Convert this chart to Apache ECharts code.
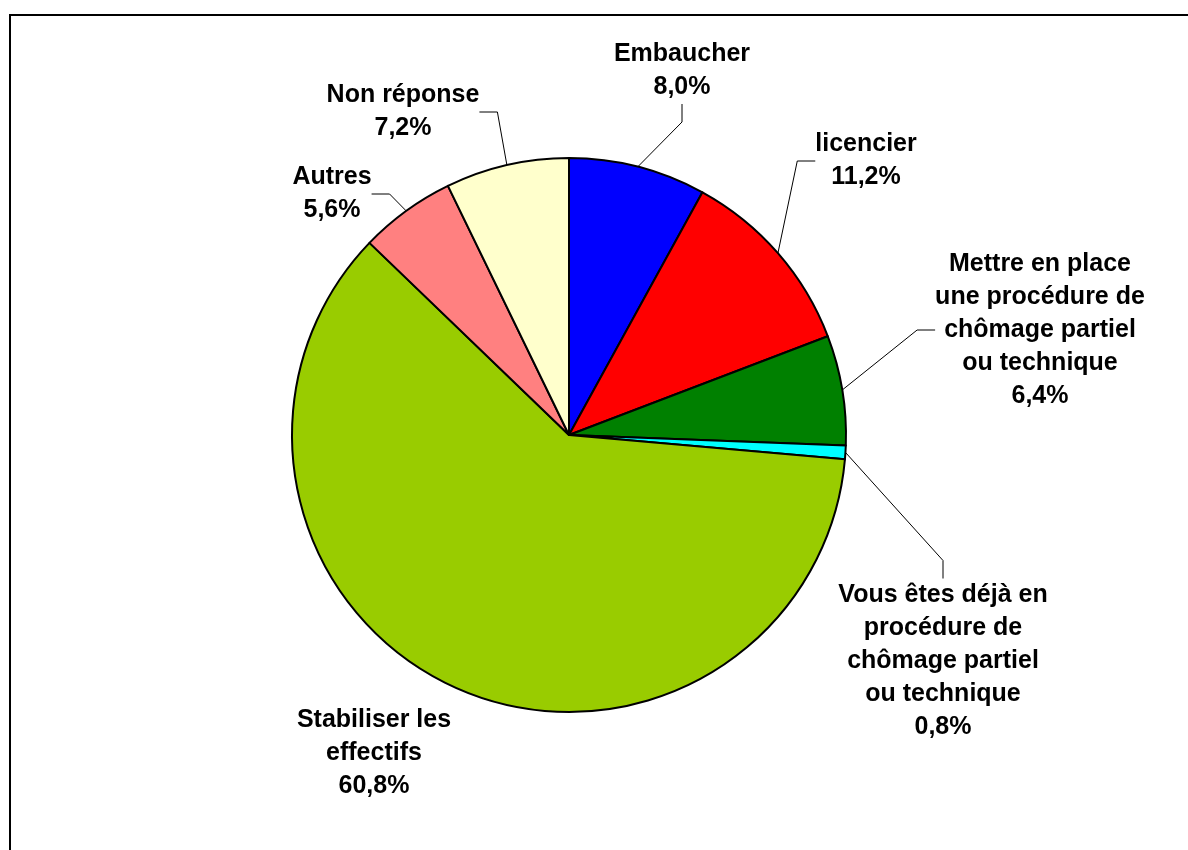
<!DOCTYPE html>
<html>
<head>
    <meta charset="utf-8">
    <title>ECharts</title>
    <script src="https://cdn.jsdelivr.net/npm/echarts@6/dist/echarts.min.js"></script>
    <style>
        *{
            margin: 0;
            padding: 0;
        }
        html,body{
            width: 100%;
            height: 100%;
            overflow: hidden;
            background: #fff;
        }
        .container{
            width: 1188px;
            height: 850px;
        }
    </style>
</head>
<body>
<div class="container"></div>

<script>
    // données (en %)
    let categories = [
        'Embaucher',
        'licencier',
        'Mettre en place\nune procédure de\nchômage partiel\nou technique',
        'Vous êtes déjà en\nprocédure de\nchômage partiel\nou technique',
        'Stabiliser les\neffectifs',
        'Autres',
        'Non réponse'
    ];
    let values = [8.0, 11.2, 6.4, 0.8, 60.8, 5.6, 7.2];
    let colors = ['#0000ff', '#ff0000', '#008000', '#00ffff', '#99cc00', '#ff8080', '#ffffcc'];

    // position des étiquettes (centre du bloc de texte, en px)
    let labelPos = [
        [682, 71],
        [866, 161],
        [1040, 330],
        [943, 661],
        [374, 753],
        [332, 194],
        [403, 112]
    ];

    let container = document.getElementsByClassName('container');
    let chart = echarts.init(container[0]);

    let pieData = categories.map((name, i) => ({
        name: name,
        value: values[i],
        itemStyle: {color: colors[i]},
        labelLine: {show: name.indexOf('Stabiliser') !== 0}
    }));

    let option = {
        backgroundColor: '#fff',
        animation: false,
        graphic: [{
            type: 'rect',
            z: -10,
            shape: {x: 10, y: 15, width: 1300, height: 1000},
            style: {fill: 'none', stroke: '#000', lineWidth: 2}
        }],
        series: [{
            type: 'pie',
            center: [569, 435],
            radius: 277,
            startAngle: 90,
            clockwise: true,
            avoidLabelOverlap: false,
            itemStyle: {
                borderColor: '#000',
                borderWidth: 2
            },
            label: {
                show: true,
                position: 'outside',
                color: '#000',
                fontFamily: 'Liberation Sans, Arial, sans-serif',
                fontWeight: 'bold',
                fontSize: 25,
                lineHeight: 33,
                align: 'center',
                formatter: function (p) {
                    return p.name + '\n' + p.value.toFixed(1).replace('.', ',') + '%';
                }
            },
            labelLine: {
                show: true,
                length: 15,
                length2: 18,
                lineStyle: {color: '#000', width: 1}
            },
            labelLayout: function (p) {
                let pos = labelPos[p.dataIndex];
                return {
                    x: pos[0],
                    y: pos[1],
                    align: 'center',
                    verticalAlign: 'middle'
                };
            },
            emphasis: {disabled: true},
            data: pieData
        }]
    };
    chart.setOption(option);
</script>
</body>
</html>
